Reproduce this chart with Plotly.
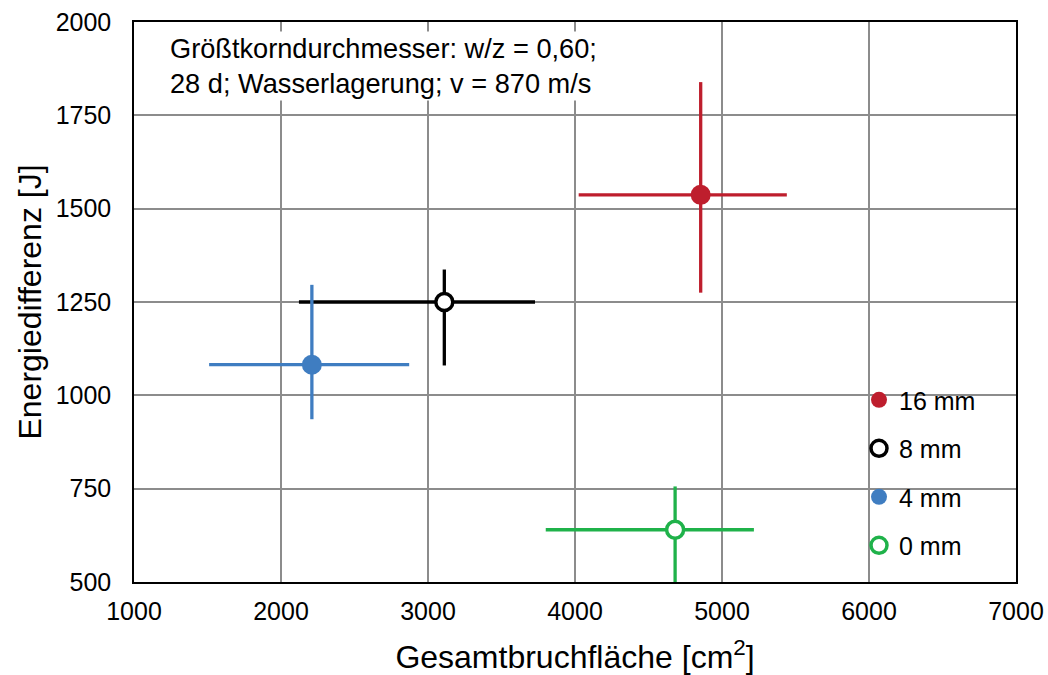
import plotly.graph_objects as go

# Mean values with asymmetric spreads per maximum aggregate size
series_names = ["16 mm", "8 mm", "4 mm", "0 mm"]
area_mean = [4855, 3111, 2210, 4681]          # Gesamtbruchfläche [cm²]
area_plus = [586, 617, 662, 536]
area_minus = [830, 989, 699, 880]
energy_mean = [1537, 1250, 1082, 640]         # Energiedifferenz [J]
energy_plus = [302, 87, 214, 116]
energy_minus = [262, 170, 146, 160]

line_colors = ["#BE1E2D", "#000000", "#3F7DC1", "#1FB24A"]
fill_colors = ["#BE1E2D", "#FFFFFF", "#3F7DC1", "#FFFFFF"]

x_ticks = [1000, 2000, 3000, 4000, 5000, 6000, 7000]
y_ticks = [500, 750, 1000, 1250, 1500, 1750, 2000]

FONT = "Arial, 'Liberation Sans', sans-serif"

fig = go.Figure()
for i, name in enumerate(series_names):
    hollow = fill_colors[i] == "#FFFFFF"
    fig.add_trace(go.Scatter(
        x=[area_mean[i]], y=[energy_mean[i]],
        mode="markers",
        name=name,
        legendgroup=name,
        marker=dict(
            symbol="circle",
            size=17 if hollow else 20,
            color=fill_colors[i],
            line=dict(color=line_colors[i], width=3.5 if hollow else 0),
        ),
        error_x=dict(type="data", symmetric=False,
                     array=[area_plus[i]], arrayminus=[area_minus[i]],
                     color=line_colors[i], thickness=3.3, width=0),
        error_y=dict(type="data", symmetric=False,
                     array=[energy_plus[i]], arrayminus=[energy_minus[i]],
                     color=line_colors[i], thickness=3.3, width=0),
    ))

fig.update_layout(
    width=1048, height=675,
    margin=dict(l=134, r=32, t=22, b=93, autoexpand=False),
    paper_bgcolor="white", plot_bgcolor="white",
    font=dict(family=FONT, size=25, color="black"),
    showlegend=True,
    legend=dict(
        x=0.822, y=0.366, xanchor="left", yanchor="top",
        bgcolor="rgba(0,0,0,0)",
        font=dict(family=FONT, size=25, color="black"),
        itemwidth=30,
        tracegroupgap=13,
    ),
    xaxis=dict(
        range=[1000, 7000], tickvals=x_ticks, automargin=False,
        showgrid=True, gridcolor="#8C8C8C", gridwidth=1.5,
        showline=True, linecolor="black", linewidth=1.5, mirror=True,
        zeroline=False, ticks="", ticklabelstandoff=6,
        tickfont=dict(family=FONT, size=25),
        title=dict(text="Gesamtbruchfläche [cm<sup>2</sup>]",
                   font=dict(family=FONT, size=32), standoff=23),
    ),
    yaxis=dict(
        range=[500, 2000], tickvals=y_ticks, automargin=False,
        showgrid=True, gridcolor="#8C8C8C", gridwidth=1.5,
        showline=True, linecolor="black", linewidth=1.5, mirror=True,
        zeroline=False, ticks="", ticklabelstandoff=16,
        tickfont=dict(family=FONT, size=25),
        title=dict(text="Energiedifferenz [J]",
                   font=dict(family=FONT, size=32), standoff=4),
    ),
    annotations=[dict(
        xref="paper", yref="paper", x=0.038, y=0.984,
        xanchor="left", yanchor="top", align="left", showarrow=False,
        text="Größtkorndurchmesser: w/z = 0,60;<br>28 d; Wasserlagerung; v = 870 m/s",
        font=dict(family=FONT, size=27.2, color="black"),
        bgcolor="white",
    )],
)

fig.write_html("out.html")
